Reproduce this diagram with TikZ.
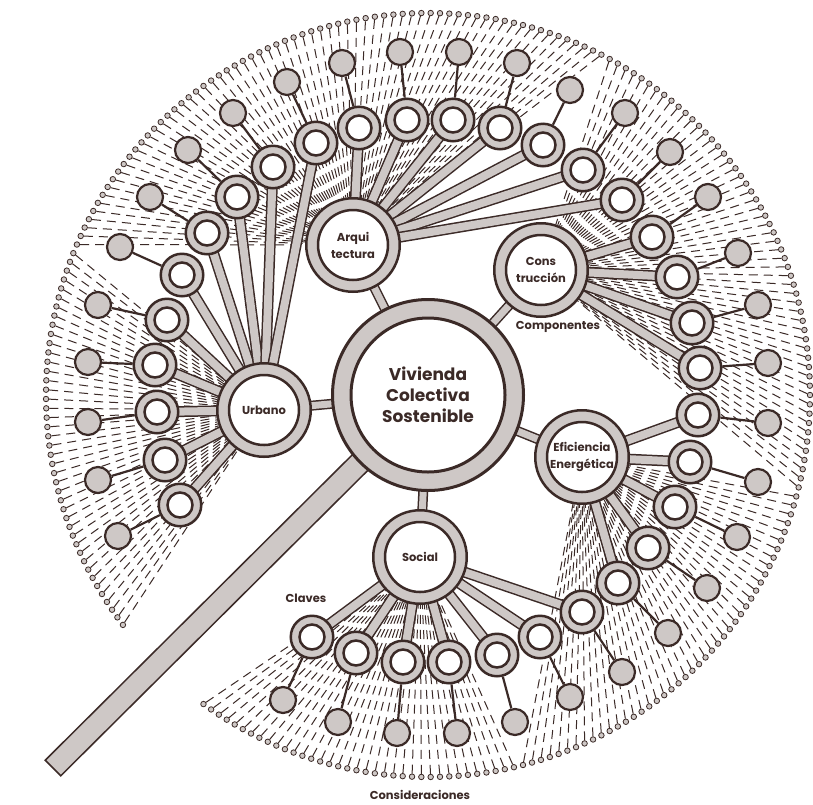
\documentclass[tikz,border=0pt]{standalone}
\usepackage{fontspec}
\newfontfamily\labelfont{Poppins}
\usetikzlibrary{calc}
\definecolor{ink}{HTML}{3B2A27}
\definecolor{ash}{HTML}{CEC8C6}
\pgfdeclarelayer{paper}
\pgfdeclarelayer{dashes}
\pgfdeclarelayer{bars}
\pgfsetlayers{paper,dashes,bars,main}

\tikzset{
  hubbase/.style n args={3}{circle, draw=ink, fill=ash, line width=#3, inner sep=0pt,
    minimum size=#1, text=ink, align=center,
    path picture={\draw[ink, line width=#3, fill=white]
      (path picture bounding box.center) circle (#2);}},
  core/.style={hubbase={191pt}{77pt}{3pt},
    font=\labelfont\bfseries\fontsize{17}{21}\selectfont},
  topic/.style={hubbase={93.5pt}{35pt}{2.5pt},
    font=\labelfont\bfseries\fontsize{11.5}{17}\selectfont},
  ringnode/.style={hubbase={42.5pt}{12.5pt}{2.5pt}},
  leaf/.style={circle, draw=ink, fill=ash, line width=2.2pt, minimum size=26pt, inner sep=0pt},
  dot/.style={circle, draw=ink, fill=ash, line width=0.8pt, minimum size=5.5pt, inner sep=0pt},
  dashln/.style={draw=ink, line width=1pt, dash pattern=on 9pt off 6pt},
  spoke/.style={draw=ink, line width=1.5pt, double=ash, double distance=8pt},
  link/.style={draw=ink, line width=2.2pt},
  caption/.style={text=ink, inner sep=0pt,
    font=\labelfont\bfseries\fontsize{11.5}{14}\selectfont},
}

% outer ring of small dots, each tied by a dashed ray to its topic hub
\newcommand\dotfan[3]{%
  \foreach \i in {#1,...,#2}{%
    \pgfmathsetmacro\ang{234+1.4*\i}%
    \node[dot] (d\i) at ({428+382*cos(\ang)},{395-382*sin(\ang)}) {};
    \begin{pgfonlayer}{dashes}
      \draw[dashln] (d\i) -- (#3);
    \end{pgfonlayer}
  }%
}

\begin{document}
\begin{tikzpicture}[x=1pt,y=-1pt]
\useasboundingbox (0,0) rectangle (813,804);
\begin{pgfonlayer}{paper}
  \fill[white] (0,0) rectangle (813,804);
\end{pgfonlayer}

% central hub and the five topics
\node[core] (core) at (428,395) {Vivienda\\Colectiva\\Sostenible};
\node[topic] (arq)  at (353,245) {Arqui\\tectura};
\node[topic] (cons) at (541,270) {Cons\\trucción};
\node[topic] (urb)  at (264,410) {Urbano};
\node[topic] (eff)  at (582,457) {Eficiencia\\Energética};
\node[topic] (soc)  at (420,557) {Social};

% trunk
\coordinate (stemend) at (53,768);
\begin{pgfonlayer}{bars}
  \draw[ink, line width=1.5pt, fill=ash]
    ($(core.center)!11pt!90:(stemend)$) -- ($(stemend)!11pt!-90:(core.center)$)
    -- ($(stemend)!11pt!90:(core.center)$) -- ($(core.center)!11pt!-90:(stemend)$) -- cycle;
  \foreach \h in {arq,cons,urb,eff,soc}
    \draw[spoke, double distance=7pt] (core.center) -- (\h.center);
\end{pgfonlayer}

% second level rings with their leaves
\foreach \n/\x/\y/\lx/\ly/\h in {
  u1/180/505/118/536/urb, u2/165/460/98/480/urb, u3/157/412/88/422/urb,
  u4/155/365/88/362/urb, u5/167/320/98/305/urb, u6/182/275/120/247/urb,
  u7/207/233/150/197/urb, u8/237/197/188/150/urb, u9/273/167/233/113/urb,
  u10/316/143/287/82/urb,
  a1/359/128/342/63/arq, a2/407/120/400/52/arq, a3/453/120/459/52/arq,
  a4/500/128/517/63/arq, a5/543/145/570/90/arq, a6/583/170/625/113/arq,
  a7/622/200/670/152/arq,
  c1/652/237/708/197/cons, c2/677/277/738/253/cons, c3/692/323/758/305/cons,
  c4/700/368/768/363/cons,
  e1/698/415/768/423/eff, e2/690/462/758/482/eff, e3/675/507/737/537/eff,
  e4/648/548/707/588/eff, e5/618/583/668/633/eff,
  s1/312/637/283/700/soc, s2/356/653/338/722/soc, s3/403/662/397/733/soc,
  s4/449/662/457/733/soc, s5/497/655/515/722/soc, s6/540/637/570/697/soc,
  s7/582/612/622/672/soc}{
  \node[ringnode] (\n) at (\x,\y) {};
  \node[leaf] (l\n) at (\lx,\ly) {};
  \begin{pgfonlayer}{bars}
    \draw[spoke] (\h.center) -- (\n.center);
    \draw[link] (\n) -- (l\n);
  \end{pgfonlayer}
}

% outer dots grouped by topic
\dotfan{0}{35}{soc}
\dotfan{36}{79}{eff}
\dotfan{80}{134}{cons}
\dotfan{135}{202}{arq}
\dotfan{203}{245}{urb}

% captions
\node[caption] (compo) at (558,327) {Componentes};
\node[caption] (claves) at (306,598) {Claves};
\node[caption] (consid) at (420,795) {Consideraciones};
\end{tikzpicture}
\end{document}
